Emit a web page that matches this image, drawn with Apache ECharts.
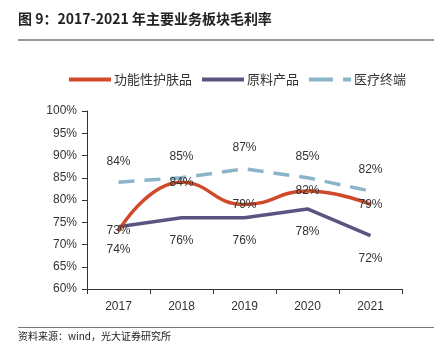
<!DOCTYPE html>
<html><head><meta charset="utf-8">
<script src="https://cdn.jsdelivr.net/npm/echarts@6/dist/echarts.min.js"></script>
<style>html,body{margin:0;padding:0;background:#fff}#c{width:434px;height:362px}</style>
</head><body><div id="c"></div>
<script>
const categories = ['2017','2018','2019','2020','2021'];
const functionalSkincare = [73, 84, 79, 82, 79];
const rawMaterials = [74, 76, 76, 78, 72];
const medicalTerminal = [84, 85, 87, 85, 82];
const seriesNames = ['功能性护肤品','原料产品','医疗终端'];
const yTicks = {min: 60, max: 100, interval: 5};

const chart = echarts.init(document.getElementById('c'), null, {renderer:'canvas'});
const lblFont = {fontFamily:'Liberation Sans, Arial, sans-serif', fontSize:12, color:'#333'};
const icons = ['rect','rect','path://M0,0H24V4H0Z M34,0H42V4H34Z'];
chart.setOption({
  animation:false,
  graphic:[
    {type:'text', left:18, top:12, style:{text:'图 9：2017-2021 年主要业务板块毛利率', font:'bold 14px "Noto Sans CJK SC", sans-serif', fill:'#222'}},
    {type:'rect', shape:{x:18, y:39, width:416, height:2}, style:{fill:'#999'}},
    {type:'rect', shape:{x:18, y:327, width:416, height:1}, style:{fill:'#777'}},
    {type:'text', left:18, top:331, style:{text:'资料来源：wind，光大证券研究所', font:'10px "Noto Sans CJK SC", sans-serif', fill:'#222'}}
  ],
  legend:{
    top:68, left:64, itemWidth:42, itemHeight:4, itemGap:10,
    textStyle:{fontFamily:'"Noto Sans CJK SC", sans-serif', fontSize:13, color:'#333', padding:[0,0,0,-2]},
    data:seriesNames.map((n,i)=>({name:n, icon:icons[i]}))
  },
  grid:{left:87, right:32, top:111, bottom:73},
  xAxis:{type:'category', data:categories, boundaryGap:true,
    axisLine:{lineStyle:{color:'#333'}}, axisTick:{show:true, alignWithLabel:false, length:5, lineStyle:{color:'#333'}},
    axisLabel:Object.assign({margin:12}, lblFont)},
  yAxis:{type:'value', min:yTicks.min, max:yTicks.max, interval:yTicks.interval,
    axisLine:{show:true, lineStyle:{color:'#333'}}, axisTick:{show:true, length:5, inside:false, lineStyle:{color:'#333'}},
    splitLine:{show:false},
    axisLabel:Object.assign({formatter:'{value}%', margin:10}, lblFont)},
  series:[
    {name:seriesNames[0], type:'line', data:functionalSkincare, smooth:0.5, symbol:'circle', symbolSize:0, showSymbol:true,
      lineStyle:{color:'#CF4A2B', width:3.5}, itemStyle:{color:'#CF4A2B'},
      label:{show:true, position:'inside', formatter:'{c}%', ...lblFont}, z:3},
    {name:seriesNames[1], type:'line', data:rawMaterials, symbol:'circle', symbolSize:0, showSymbol:true,
      lineStyle:{color:'#5A5580', width:3.5}, itemStyle:{color:'#5A5580'},
      label:{show:true, position:'bottom', distance:17, formatter:'{c}%', ...lblFont}, z:2},
    {name:seriesNames[2], type:'line', data:medicalTerminal, symbol:'circle', symbolSize:0, showSymbol:true,
      lineStyle:{color:'#8AB5C9', width:3.5, type:[16,10]}, itemStyle:{color:'#8AB5C9'},
      label:{show:true, position:'top', distance:15, formatter:'{c}%', ...lblFont}, z:1}
  ]
});
</script></body></html>
